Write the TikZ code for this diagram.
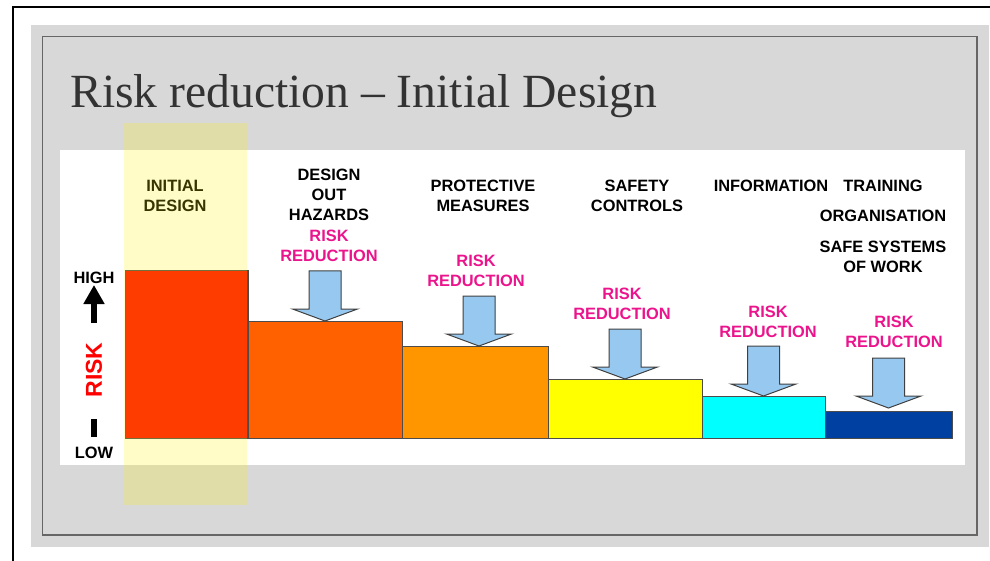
\documentclass[tikz,border=0pt]{standalone}
\usepackage{fontspec}
\setmainfont{Liberation Sans}
\newfontfamily\titlefont{Liberation Serif}
\usetikzlibrary{arrows.meta}
\definecolor{panelgrey}{RGB}{216,216,216}
\definecolor{titlegrey}{RGB}{51,51,51}
\definecolor{riskpink}{RGB}{236,20,140}
\definecolor{arrowblue}{RGB}{150,200,240}
\definecolor{barred}{RGB}{255,10,0}
\definecolor{barorange}{RGB}{255,96,0}
\definecolor{baramber}{RGB}{255,150,0}
\definecolor{baryellow}{RGB}{255,255,0}
\definecolor{barcyan}{RGB}{0,255,255}
\definecolor{barnavy}{RGB}{0,64,160}

\begin{document}
\begin{tikzpicture}[x=0.5pt,y=-0.5pt,
    bar/.style={draw=black!70,line width=0.5pt,inner sep=0pt,outer sep=0pt,anchor=south west},
    stage/.style={font=\bfseries\fontsize{8.2}{10}\selectfont,align=center,inner sep=0pt},
    reduce/.style={stage,text=riskpink},
    dropbox/.style={draw=black!75,fill=arrowblue,line width=0.5pt}]
        \useasboundingbox (0,0) rectangle (990,561);
        \fill[panelgrey] (31,25) rectangle (989,547);
        \draw[black!60,line width=0.6pt] (42.5,36.5) rectangle (977,535);
        \draw[black,line width=1.3pt] (13,561) -- (13,7) -- (990,7);
        \fill[white] (60,150) rectangle (965,465);
        \node[anchor=base west,inner sep=0pt,text=titlegrey,font=\titlefont\fontsize{23.8}{28}\selectfont] (title) at (70,108) {Risk reduction – Initial Design};
        \coordinate (ground) at (125,438);
        \node[bar,fill=barred,minimum width=61.5pt,minimum height=83.5pt] (b1) at (ground) {};
        \node[bar,fill=barorange,minimum width=77pt,minimum height=58.5pt] (b2) at (b1.south east) {};
        \node[bar,fill=baramber,minimum width=73pt,minimum height=46pt] (b3) at (b2.south east) {};
        \node[bar,fill=baryellow,minimum width=77pt,minimum height=29.5pt] (b4) at (b3.south east) {};
        \node[bar,fill=barcyan,minimum width=61.5pt,minimum height=21pt] (b5) at (b4.south east) {};
        \node[bar,fill=barnavy,minimum width=63.5pt,minimum height=13.5pt] (b6) at (b5.south east) {};
        \draw[dropbox] (b2.north) -- ++(-32.5,-12) -- ++(16.5,0) -- ++(0,-38) -- ++(32,0) -- ++(0,38) -- ++(16.5,0) -- cycle;
        \draw[dropbox] ([xshift=2pt]b3.north) -- ++(-32.5,-12) -- ++(16.5,0) -- ++(0,-38) -- ++(32,0) -- ++(0,38) -- ++(16.5,0) -- cycle;
        \draw[dropbox] (b4.north) -- ++(-32.5,-12) -- ++(16.5,0) -- ++(0,-38) -- ++(32,0) -- ++(0,38) -- ++(16.5,0) -- cycle;
        \draw[dropbox] (b5.north) -- ++(-32.5,-12) -- ++(16.5,0) -- ++(0,-38) -- ++(32,0) -- ++(0,38) -- ++(16.5,0) -- cycle;
        \draw[dropbox] ([yshift=1.5pt]b6.north) -- ++(-32.5,-12) -- ++(16.5,0) -- ++(0,-38) -- ++(32,0) -- ++(0,38) -- ++(16.5,0) -- cycle;
        \node[stage] (initial) at (175,196) {INITIAL\\DESIGN};
        \node[stage] (designout) at (329,195) {DESIGN\\OUT\\HAZARDS};
        \node[reduce] (rr1) at (329,246) {RISK\\REDUCTION};
        \node[stage] (protective) at (483,196) {PROTECTIVE\\MEASURES};
        \node[reduce] (rr2) at (476,271) {RISK\\REDUCTION};
        \node[stage] (safety) at (637,196) {SAFETY\\CONTROLS};
        \node[reduce] (rr3) at (622,304) {RISK\\REDUCTION};
        \node[stage] (information) at (771,186) {INFORMATION};
        \node[reduce] (rr4) at (768,322) {RISK\\REDUCTION};
        \node[stage] (training) at (883,186) {TRAINING};
        \node[stage] (organisation) at (883,216) {ORGANISATION};
        \node[stage] (safesys) at (883,257) {SAFE SYSTEMS\\OF WORK};
        \node[reduce] (rr5) at (894,332) {RISK\\REDUCTION};
        \node[stage] (high) at (94,278) {HIGH};
        \node[stage] (low) at (94,453) {LOW};
        \node[rotate=90,inner sep=0pt,text=red,font=\bfseries\fontsize{11.5}{12}\selectfont] (risk) at (94,370) {RISK};
        \coordinate (upfoot) at (94,323);
        \coordinate (uptip) at (94,285);
        \coordinate (lowtop) at (94,419);
        \coordinate (lowfoot) at (94,437);
        \draw[line width=3pt,-{Triangle[length=9.5pt,width=10pt]}] (upfoot) -- (uptip);
        \draw[line width=3pt] (lowtop) -- (lowfoot);
        \fill[yellow,fill opacity=0.22] (124,123) rectangle (247,505);
    \end{tikzpicture}
\end{document}
